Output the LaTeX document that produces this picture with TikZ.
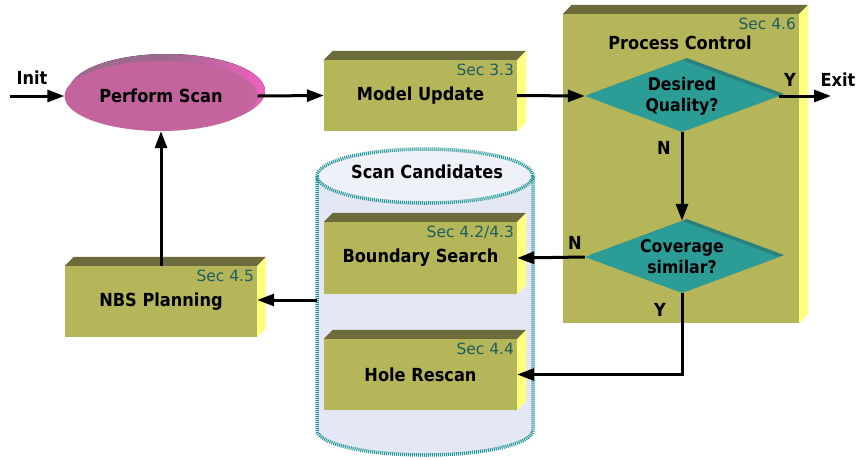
\documentclass[tikz,border=0pt]{standalone}
\usepackage{fontspec}
\setmainfont{DejaVu Sans}
\newfontfamily\bfc{DejaVu Sans}[FakeStretch=0.9]
\usetikzlibrary{shapes.geometric,arrows.meta}
\definecolor{olivef}{HTML}{B5B55A}
\definecolor{topc}{HTML}{6B6B3B}
\definecolor{sidec}{HTML}{FFFF80}
\definecolor{tealf}{HTML}{2C9C96}
\definecolor{teals}{HTML}{2A807E}
\definecolor{secc}{HTML}{1E5E5E}
\definecolor{pinkf}{HTML}{C4649C}
\definecolor{pinks}{HTML}{9C6A8C}
\definecolor{pinkb}{HTML}{F060C0}
\definecolor{cylf}{HTML}{E3E8F4}
\definecolor{cylb}{HTML}{1E9494}
\newcommand\boxfaces[1]{%
  \fill[topc] (#1.north west) -- ++(9,-9) -- ([shift={(9,-9)}]#1.north east) -- (#1.north east) -- cycle;
  \fill[sidec] (#1.north east) -- ++(9,-9) -- ([shift={(9,-9)}]#1.south east) -- (#1.south east) -- cycle;}
\tikzset{
  front/.style={rectangle, fill=olivef, minimum width=193pt, minimum height=71pt, inner sep=0pt,
    font=\bfc\bfseries\fontsize{18}{21}\selectfont},
  seclab/.style={anchor=north east, text=secc, font=\fontsize{15.5}{18}\selectfont, inner sep=0pt},
  arr/.style={line width=3pt, -{Triangle[length=17pt,width=12pt]}},
  lab/.style={font=\bfc\bfseries\fontsize{18}{21}\selectfont, inner sep=0pt},
  dia/.style={diamond, aspect=2.7, fill=tealf, minimum width=194pt, minimum height=72pt, inner sep=0pt},
  diashadow/.style={diamond, aspect=2.7, fill=teals, minimum width=194pt, minimum height=72pt, inner sep=0pt},
  diatext/.style={align=center, inner sep=0pt, font=\bfc\bfseries\fontsize{17.5}{21}\selectfont},
}
\begin{document}
\begin{tikzpicture}[x=1pt,y=-1pt]
\useasboundingbox (0,0) rectangle (856,459);
% Process control box
\node[front, minimum width=236pt, minimum height=309pt] (pc) at (681,168.5) {};
\boxfaces{pc}
\node[seclab] (pcsec) at ([shift={(-3,4)}]pc.north east) {Sec 4.6};
\node[lab] (pct) at (680,43) {Process Control};
% diamonds
\node[diashadow] (dqs) at (687,94) {};
\node[dia] (dq) at (682,96) {};
\node[diatext] (dqt) at (682,96) {Desired\\Quality?};
\node[diashadow] (css) at (687,255) {};
\node[dia] (cs) at (682,257) {};
\node[diatext] (cst) at (682,257) {Coverage\\similar?};
% cylinder
\fill[cylf] (317,176) -- (317,430) .. controls (317,443.8) and (365.4,455) .. (425,455)
  .. controls (484.6,455) and (533,443.8) .. (533,430) -- (533,176) -- cycle;
\fill[cylf!60!white] (425,176) ellipse [x radius=108, y radius=27];
\draw[cylb, line width=3.5pt, dash pattern=on 1pt off 1pt] (317,176) -- (317,430)
  .. controls (317,443.8) and (365.4,455) .. (425,455)
  .. controls (484.6,455) and (533,443.8) .. (533,430) -- (533,176);
\draw[cylb, line width=3.5pt, dash pattern=on 1pt off 1pt] (425,176) ellipse [x radius=108, y radius=27];
\node[lab] (sct) at (427,172) {Scan Candidates};
\coordinate (cylW) at (317,300);
% boxes
\node[front] (mu) at (420.5,95.5) {Model Update};
\boxfaces{mu}
\node[seclab] (musec) at ([shift={(-3,4)}]mu.north east) {Sec 3.3};
\node[front, minimum height=72pt] (bs) at (420.5,258) {Boundary Search};
\boxfaces{bs}
\node[seclab] (bssec) at ([shift={(-3,4)}]bs.north east) {Sec 4.2/4.3};
\node[front] (hr) at (420.5,374.5) {Hole Rescan};
\boxfaces{hr}
\node[seclab] (hrsec) at ([shift={(-3,4)}]hr.north east) {Sec 4.4};
\node[front, minimum width=192pt] (nbs) at (161,301.5) {NBS Planning};
\boxfaces{nbs}
\node[seclab] (nbssec) at ([shift={(-3,4)}]nbs.north east) {Sec 4.5};
% perform scan ellipse
\fill[left color=pinks, right color=pinkb, middle color=pinks] (167,91) ellipse [x radius=98, y radius=37];
\node[ellipse, fill=pinkf, minimum width=193pt, minimum height=70pt, inner sep=0pt,
  font=\bfc\bfseries\fontsize{18}{21}\selectfont] (ps) at (161,96) {Perform Scan};
% labels
\node[lab] (init) at (32,78) {Init};
\node[lab] (exit) at (838,80) {Exit};
\node[lab] (y1) at (790,80) {Y};
\node[lab] (n1) at (664,148) {N};
\node[lab] (n2) at (575,243) {N};
\node[lab] (y2) at (660,310) {Y};
\coordinate (initc) at (10,96);
\coordinate (exitc) at (831,96);
% connectors
\draw[arr] (initc) -- (ps.west);
\draw[arr] (ps.east) -- (mu.west);
\draw[arr] (mu.east) -- (dq.west);
\draw[arr] (dq.east) -- (exitc);
\draw[arr] (dq.south) -- (cs.north);
\draw[arr] (cs.west) -- (bs.east);
\draw[arr] (cs.south) -- (cs.south |- hr.east) -- (hr.east);
\draw[arr] (cylW) -- (cylW -| nbs.east);
\draw[arr] (nbs.north) -- (ps.south);
\end{tikzpicture}
\end{document}
